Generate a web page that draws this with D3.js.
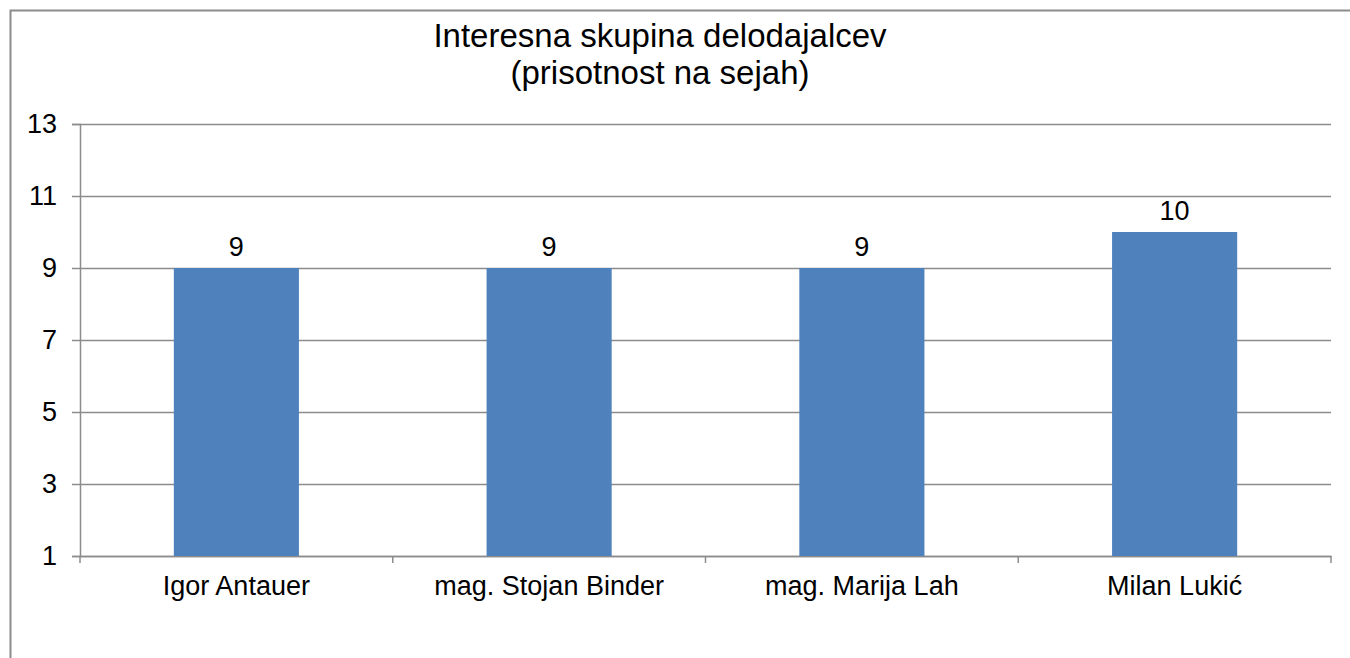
<!DOCTYPE html>
<html>
<head>
<meta charset="utf-8">
<script src="https://cdn.jsdelivr.net/npm/d3@7"></script>
<style>
  body { margin: 0; background: #fff; }
  svg { display: block; font-family: "Liberation Sans", Arial, sans-serif; }
</style>
</head>
<body>
<svg id="chart"></svg>
<script>
var names = ["Igor Antauer", "mag. Stojan Binder", "mag. Marija Lah", "Milan Lukić"];
var values = [9, 9, 9, 10];
var yTicks = [1, 3, 5, 7, 9, 11, 13];
var titleLines = ["Interesna skupina delodajalcev", "(prisotnost na sejah)"];

var W = 1350, H = 658;
var margin = {top: 124, right: 19, bottom: 102, left: 80},
    width = W - margin.left - margin.right,
    height = H - margin.top - margin.bottom;

var svg = d3.select("#chart").attr("width", W).attr("height", H);

// outer chart border
svg.append("rect")
  .attr("x", 10.5).attr("y", 10.5)
  .attr("width", W + 20).attr("height", H + 20)
  .attr("fill", "none").attr("stroke", "#8c8c8c").attr("stroke-width", 2);

// title
svg.append("g").selectAll("text")
  .data(titleLines)
  .enter()
  .append("text")
    .attr("x", 660)
    .attr("y", function (d, i) { return 47 + i * 37; })
    .attr("text-anchor", "middle")
    .style("font-size", "33px")
    .text(function (d) { return d; });

var g = svg.append("g")
  .attr("transform", "translate(" + margin.left + "," + margin.top + ")");

var x = d3.scaleBand()
  .domain(names)
  .range([0, width])
  .paddingInner(0.6)
  .paddingOuter(0.3);

var y = d3.scaleLinear()
  .domain([1, 13])
  .range([height, 0]);

// gridlines
g.append("g")
  .selectAll("line")
  .data(yTicks)
  .enter()
  .append("line")
    .attr("x1", 0).attr("x2", width)
    .attr("y1", function (d) { return Math.round(y(d)) + 0.5; })
    .attr("y2", function (d) { return Math.round(y(d)) + 0.5; })
    .attr("stroke", "#8c8c8c").attr("stroke-width", 1.5);

// y axis
var yAxis = g.append("g")
  .call(d3.axisLeft(y).tickValues(yTicks).tickSize(8).tickPadding(15));
yAxis.select(".domain").attr("stroke", "#8c8c8c").attr("stroke-width", 1.5);
yAxis.selectAll(".tick line").attr("stroke", "#8c8c8c").attr("stroke-width", 1.5);
yAxis.selectAll("text").style("font-size", "27px").attr("fill", "#000")
  .attr("font-family", "Liberation Sans, Arial, sans-serif");

// x axis (category boundaries as ticks)
var xAxis = g.append("g")
  .attr("transform", "translate(0," + height + ")")
  .call(d3.axisBottom(x).tickSize(0).tickPadding(20));
xAxis.select(".domain").attr("stroke", "#8c8c8c").attr("stroke-width", 1.5);
xAxis.selectAll("text").style("font-size", "27px").attr("fill", "#000")
  .attr("font-family", "Liberation Sans, Arial, sans-serif");

var step = width / names.length;
g.append("g")
  .selectAll("line")
  .data(d3.range(names.length + 1))
  .enter()
  .append("line")
    .attr("x1", function (d) { return d * step; })
    .attr("x2", function (d) { return d * step; })
    .attr("y1", height).attr("y2", height + 7)
    .attr("stroke", "#8c8c8c").attr("stroke-width", 1.5);

// bars
g.append("g")
  .selectAll("rect")
  .data(values)
  .enter()
  .append("rect")
    .attr("x", function (d, i) { return x(names[i]); })
    .attr("y", function (d) { return y(d); })
    .attr("width", x.bandwidth())
    .attr("height", function (d) { return height - y(d); })
    .attr("fill", "#4f81bd");

// value labels
g.append("g")
  .selectAll("text")
  .data(values)
  .enter()
  .append("text")
    .attr("x", function (d, i) { return x(names[i]) + x.bandwidth() / 2; })
    .attr("y", function (d) { return y(d) - 12; })
    .attr("text-anchor", "middle")
    .style("font-size", "27px")
    .text(function (d) { return d; });
</script>
</body>
</html>
